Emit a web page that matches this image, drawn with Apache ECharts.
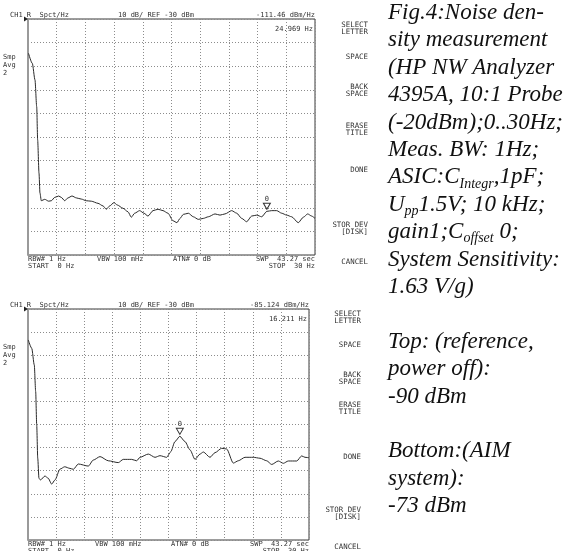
<!DOCTYPE html>
<html><head><meta charset="utf-8">
<script src="https://cdn.jsdelivr.net/npm/echarts@6/dist/echarts.min.js"></script>
<style>html,body{margin:0;padding:0;background:#fff}#c{width:574px;height:551px}</style>
</head><body><div id="c"></div>
<script>
// ---- data (Hz, dBm/Hz) ----
const freqTop = [0.05,0.45,0.73,0.91,1.01,1.15,1.25,1.39,1.75,2.16,2.44,2.79,3.21,3.48,3.84,4.18,4.60,5.05,5.57,6.09,6.62,7.32,7.84,8.18,8.54,8.99,9.33,9.93,10.45,10.80,11.15,11.67,12.13,12.54,13.07,13.59,14.11,14.63,15.16,15.57,15.89,16.23,16.76,17.28,17.80,18.32,18.85,19.55,20.07,20.59,21.29,21.82,22.34,22.86,23.38,23.91,24.43,24.97,25.47,26.00,26.52,27.04,27.56,28.25,28.78,29.24,29.65,30.0];
const levelTop = [-44.5,-48.8,-55.8,-67.2,-81.3,-95.3,-103.7,-107.0,-106.4,-107.2,-107.0,-105.6,-105.0,-105.6,-107.0,-105.8,-105.0,-105.8,-106.3,-107.0,-107.2,-108.1,-109.2,-110.6,-109.2,-107.8,-108.8,-110.2,-111.7,-114.0,-112.3,-111.2,-112.3,-113.5,-111.2,-110.6,-111.2,-112.3,-115.5,-116.3,-114.5,-112.8,-112.3,-113.8,-114.9,-114.5,-113.8,-112.6,-113.1,-112.6,-111.2,-112.3,-114.5,-115.9,-113.5,-113.1,-113.8,-111.5,-111.2,-111.2,-112.3,-113.1,-113.8,-116.3,-114.0,-112.6,-113.5,-114.5];
const freqBottom = [0.03,0.40,0.67,0.82,0.93,1.04,1.17,1.33,1.81,2.14,2.53,2.88,3.42,3.92,4.48,4.84,5.37,6.44,6.97,7.69,8.57,9.64,10.17,11.07,11.60,11.96,12.84,13.56,14.09,14.81,15.24,15.69,16.21,16.76,17.30,17.83,18.36,18.72,19.43,19.96,20.68,21.21,21.92,22.45,23.17,24.05,24.77,25.48,26.02,26.72,27.26,27.79,28.69,29.22,29.57,30.0];
const levelBottom = [-43.4,-47.0,-54.2,-65.8,-80.2,-94.6,-103.3,-104.0,-102.3,-103.2,-105.8,-104.0,-99.3,-98.3,-99.0,-99.4,-97.1,-98.0,-95.4,-93.9,-95.7,-96.5,-95.1,-95.1,-95.7,-94.2,-92.8,-94.2,-93.5,-94.2,-91.8,-87.4,-85.1,-87.4,-91.0,-95.1,-92.8,-91.9,-94.2,-92.2,-90.3,-90.6,-96.7,-95.7,-94.2,-94.2,-94.6,-95.7,-97.3,-95.8,-96.8,-95.8,-95.8,-93.6,-94.2,-94.4];
const markerTop = [24.969, -111.46];
const markerBottom = [16.211, -85.124];
const freqRange = [0, 30];
const levelRange = [-130, -30];
const headerLeft = 'CH1 R  Spct/Hz';
const headerMid = '10 dB/ REF -30 dBm';
const footerTop = ['RBW# 1 Hz', 'START  0 Hz', 'VBW 100 mHz', 'ATN# 0 dB', 'SWP  43.27 sec', 'STOP  30 Hz'];
const softkeys = [['SELECT','LETTER'],['SPACE'],['BACK','SPACE'],['ERASE','TITLE'],['DONE'],['STOR DEV','[DISK]'],['CANCEL']];
const avgLabel = ['Smp','Avg','2'];
const noteLines = [
  '{n|Fig.4:Noise den-}',
  '{n|sity measurement}',
  '{n|(HP NW Analyzer}',
  '{n|4395A, 10:1 Probe}',
  '{n|(-20dBm);0..30Hz;}',
  '{n|Meas. BW: 1Hz;}',
  '{n|ASIC:C}{s|Integr}{n|,1pF;}',
  '{n|U}{s|pp}{n|1.5V; 10 kHz;}',
  '{n|gain1;C}{s|offset}{n| 0;}',
  '{n|System Sensitivity:}',
  '{n|1.63 V/g)}',
  '',
  '{n|Top: (reference,}',
  '{n|power off):}',
  '{n|-90 dBm}',
  '',
  '{n|Bottom:(AIM}',
  '{n|system):}',
  '{n|-73 dBm}'
];

// ---- layout ----
const MONO = '"DejaVu Sans Mono", monospace';
const SERIF = '"Liberation Serif", "Times New Roman", serif';
const TXT = '#333';
const panels = [
  {left:28, top:19, width:287, height:236, softRight:368, softY:[[25,32],[57],[87,94],[126,133],[170],[225,232],[262]], freq:freqTop, level:levelTop, marker:markerTop},
  {left:28, top:309, width:281, height:231, softRight:361, softY:[[314,321],[345],[375,382],[405,412],[457],[510,517],[547]], freq:freqBottom, level:levelBottom, marker:markerBottom}
];

function txt(x, y, text, align, size, color) {
  return {type:'text', x:x, y:y, silent:true, z:10,
    style:{text:text, fill:color||TXT, font:(size||7)+'px '+MONO,
      textAlign:align||'left', align:align||'left', textVerticalAlign:'middle', verticalAlign:'middle'}};
}

const dotted = {color:'#8c8c8c', type:[1,2], width:1};
const grids = [], xAxes = [], yAxes = [], series = [], graphics = [];
panels.forEach((p, i) => {
  grids.push({left:p.left, top:p.top, width:p.width, height:p.height, show:true, borderColor:'#3a3a3a', borderWidth:1, backgroundColor:'#fff'});
  xAxes.push({gridIndex:i, type:'value', min:freqRange[0], max:freqRange[1], interval:3,
    axisLine:{show:false}, axisTick:{show:false}, axisLabel:{show:false}, splitLine:{show:true, lineStyle:dotted}});
  yAxes.push({gridIndex:i, type:'value', min:levelRange[0], max:levelRange[1], interval:10,
    axisLine:{show:true, onZero:false, lineStyle:{color:'#9a9a9a', width:2}}, axisTick:{show:false}, axisLabel:{show:false}, splitLine:{show:true, lineStyle:dotted}});
  series.push({type:'line', xAxisIndex:i, yAxisIndex:i, showSymbol:false, smooth:0.25, smoothMonotone:'x',
    lineStyle:{color:'#2a2a2a', width:1}, silent:true, animation:false,
    data:p.freq.map((f, k) => [f, p.level[k]]),
    markPoint:{silent:true, symbol:'triangle', symbolSize:[7,6], symbolRotate:180, symbolOffset:[0,-5],
      itemStyle:{color:'#fff', borderColor:'#333', borderWidth:1},
      label:{show:true, position:'top', distance:0, formatter:'0', fontSize:7, fontFamily:MONO, color:TXT},
      data:[{coord:p.marker}]}
  });
  const right = p.left + p.width;
  const hy = p.top - 4;
  graphics.push(txt(10, hy, headerLeft));
  graphics.push(txt(118, hy, headerMid));
  graphics.push(txt(right, hy, p.marker[1].toFixed(i === 0 ? 2 : 3) + ' dBm/Hz', 'right'));
  graphics.push(txt(right - 2, p.top + 10, p.marker[0].toFixed(3) + ' Hz', 'right'));
  avgLabel.forEach((s, k) => graphics.push(txt(3, p.top + 38 + k * 8, s)));
  const fy = p.top + p.height + 4;
  graphics.push(txt(p.left, fy, footerTop[0]));
  graphics.push(txt(p.left, fy + 7.5, footerTop[1]));
  graphics.push(txt(i === 0 ? 97 : 95, fy, footerTop[2]));
  graphics.push(txt(i === 0 ? 173 : 171, fy, footerTop[3]));
  graphics.push(txt(right, fy, footerTop[4], 'right'));
  graphics.push(txt(right, fy + 7.5, footerTop[5], 'right'));
  softkeys.forEach((lines, k) => lines.forEach((s, j) => graphics.push(txt(p.softRight, p.softY[k][j], s, 'right', 7.4))));
  graphics.push({type:'polygon', silent:true, z:10, shape:{points:[[p.left-4, p.top-2.5],[p.left, p.top],[p.left-4, p.top+2.5]]}, style:{fill:'#222'}});
});

noteLines.forEach((line, k) => {
  if (!line) return;
  graphics.push({type:'text', x:388, y:13 + k * 27.4, silent:true, z:10,
    style:{text:line, textVerticalAlign:'middle', verticalAlign:'middle', fill:'#111',
      rich:{
        n:{fontFamily:SERIF, fontStyle:'italic', fontSize:23, lineHeight:27, fill:'#111', verticalAlign:'middle'},
        s:{fontFamily:SERIF, fontStyle:'italic', fontSize:14, lineHeight:12, fill:'#111', verticalAlign:'bottom'}
      }}});
});

const chart = echarts.init(document.getElementById('c'), null, {renderer:'canvas'});
chart.setOption({animation:false, grid:grids, xAxis:xAxes, yAxis:yAxes, series:series, graphic:{elements:graphics}});
</script></body></html>
